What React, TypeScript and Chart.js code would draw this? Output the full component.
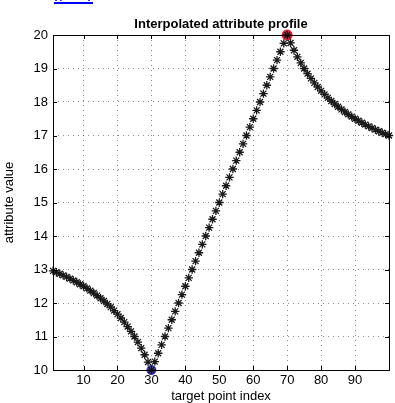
import React, { useEffect, useRef } from "react";
import { Chart, registerables } from "chart.js";

Chart.register(...registerables);

const indices: number[] = [
  1, 2, 3, 4, 5, 6, 7, 8, 9, 10, 11, 12, 13, 14, 15, 16, 17, 18, 19, 20,
  21, 22, 23, 24, 25, 26, 27, 28, 29, 30, 31, 32, 33, 34, 35, 36, 37, 38, 39, 40,
  41, 42, 43, 44, 45, 46, 47, 48, 49, 50, 51, 52, 53, 54, 55, 56, 57, 58, 59, 60,
  61, 62, 63, 64, 65, 66, 67, 68, 69, 70, 71, 72, 73, 74, 75, 76, 77, 78, 79, 80,
  81, 82, 83, 84, 85, 86, 87, 88, 89, 90, 91, 92, 93, 94, 95, 96, 97, 98, 99, 100,
];

const profileValues: number[] = [
  12.959, 12.917, 12.872, 12.826, 12.778, 12.727, 12.674, 12.619, 12.561, 12.5,
  12.436, 12.368, 12.297, 12.222, 12.143, 12.059, 11.97, 11.875, 11.774, 11.667,
  11.552, 11.429, 11.296, 11.154, 11.0, 10.833, 10.652, 10.455, 10.238, 10.0,
  10.25, 10.5, 10.75, 11.0, 11.25, 11.5, 11.75, 12.0, 12.25, 12.5,
  12.75, 13.0, 13.25, 13.5, 13.75, 14.0, 14.25, 14.5, 14.75, 15.0,
  15.25, 15.5, 15.75, 16.0, 16.25, 16.5, 16.75, 17.0, 17.25, 17.5,
  17.75, 18.0, 18.25, 18.5, 18.75, 19.0, 19.25, 19.5, 19.75, 20.0,
  19.762, 19.545, 19.348, 19.167, 19.0, 18.846, 18.704, 18.571, 18.448, 18.333,
  18.226, 18.125, 18.03, 17.941, 17.857, 17.778, 17.703, 17.632, 17.564, 17.5,
  17.439, 17.381, 17.326, 17.273, 17.222, 17.174, 17.128, 17.083, 17.041, 17.0,
];

const minPoint = { x: 30, y: 10 };
const maxPoint = { x: 70, y: 20 };

const xTicks: number[] = [10, 20, 30, 40, 50, 60, 70, 80, 90];
const yTicks: number[] = [10, 11, 12, 13, 14, 15, 16, 17, 18, 19, 20];

const titleText = "Interpolated attribute profile";
const xLabel = "target point index";
const yLabel = "attribute value";

const FONT = "'Liberation Sans', Arial, Helvetica, sans-serif";

const boxPlugin = {
  id: "matlabBox",
  afterDraw(chart: any) {
    const { ctx, chartArea } = chart;
    const { left, right, top, bottom } = chartArea;
    const xs = chart.scales.x;
    const ys = chart.scales.y;
    ctx.save();
    ctx.strokeStyle = "#000";
    ctx.lineWidth = 1;
    ctx.beginPath();
    const tl = 4;
    xTicks.forEach((v) => {
      const px = Math.round(xs.getPixelForValue(v)) + 0.5;
      ctx.moveTo(px, bottom);
      ctx.lineTo(px, bottom - tl);
      ctx.moveTo(px, top);
      ctx.lineTo(px, top + tl);
    });
    yTicks.forEach((v) => {
      const py = Math.round(ys.getPixelForValue(v)) + 0.5;
      ctx.moveTo(left, py);
      ctx.lineTo(left + tl, py);
      ctx.moveTo(right, py);
      ctx.lineTo(right - tl, py);
    });
    ctx.stroke();
    ctx.strokeRect(Math.round(left) + 0.5, Math.round(top) + 0.5, Math.round(right - left), Math.round(bottom - top));
    ctx.fillStyle = "#000";
    ctx.font = `bold 13px ${FONT}`;
    ctx.textAlign = "center";
    ctx.textBaseline = "middle";
    ctx.fillText(titleText, (left + right) / 2, 24);
    ctx.restore();
  },
};

export default function App() {
  const ref = useRef<HTMLCanvasElement | null>(null);
  useEffect(() => {
    if (!ref.current) return;
    const chart = new Chart(ref.current, {
      type: "scatter",
      data: {
        datasets: [
          {
            data: indices.map((x, i) => ({ x, y: profileValues[i] })),
            pointStyle: "star",
            pointRadius: 4.2,
            borderColor: "#1a1a1a",
            backgroundColor: "#1a1a1a",
            borderWidth: 1.3,
            showLine: false,
            clip: false,
          } as any,
          {
            data: [minPoint],
            pointStyle: "circle",
            pointRadius: 4.5,
            backgroundColor: "#3a3ad0",
            borderColor: "#2525b0",
            borderWidth: 1,
            clip: false,
          } as any,
          {
            data: [minPoint],
            pointStyle: "star",
            pointRadius: 3.8,
            borderColor: "#8a8aff",
            borderWidth: 0.8,
            clip: false,
          } as any,
          {
            data: [maxPoint],
            pointStyle: "circle",
            pointRadius: 5,
            backgroundColor: "#f02030",
            borderColor: "#e01020",
            borderWidth: 1,
            clip: false,
          } as any,
          {
            data: [maxPoint],
            pointStyle: "star",
            pointRadius: 4,
            borderColor: "#ffb0b0",
            borderWidth: 0.8,
            clip: false,
          } as any,
        ],
      },
      options: {
        animation: false,
        responsive: false,
        maintainAspectRatio: false,
        layout: { padding: { left: 0, right: 6, top: 35, bottom: 0 } },
        plugins: {
          legend: { display: false },
          title: { display: false },
          tooltip: { enabled: false },
        },
        scales: {
          x: {
            type: "linear",
            min: 1,
            max: 100,
            afterBuildTicks: (s: any) => {
              s.ticks = xTicks.map((v) => ({ value: v }));
            },
            afterFit: (s: any) => {
              s.height = 33;
            },
            ticks: {
              color: "#000",
              font: { family: FONT, size: 13 },
              padding: 3,
              maxRotation: 0,
            },
            grid: {
              drawTicks: false,
              color: "rgba(0,0,0,0.45)",
              lineWidth: 1,
            } as any,
            border: { display: false, dash: [1, 4] } as any,
            title: {
              display: true,
              text: xLabel,
              color: "#000",
              font: { family: FONT, size: 13 },
              padding: { top: 0, bottom: -1 },
            },
          },
          y: {
            type: "linear",
            min: 10,
            max: 20,
            afterBuildTicks: (s: any) => {
              s.ticks = yTicks.map((v) => ({ value: v }));
            },
            afterFit: (s: any) => {
              s.width = 53;
            },
            ticks: {
              color: "#000",
              font: { family: FONT, size: 13 },
              padding: 5,
            },
            grid: {
              drawTicks: false,
              color: "rgba(0,0,0,0.45)",
              lineWidth: 1,
            } as any,
            border: { display: false, dash: [1, 4] } as any,
            title: {
              display: true,
              text: yLabel,
              color: "#000",
              font: { family: FONT, size: 13 },
              padding: { top: 2, bottom: 0 },
            },
          },
        },
      },
      plugins: [boxPlugin],
    });
    return () => chart.destroy();
  }, []);
  return (
    <div style={{ position: "fixed", left: 0, top: 0, width: 395, height: 403, background: "#fff", overflow: "hidden" }}>
      <span
        style={{
          position: "absolute",
          left: 54,
          top: -13,
          lineHeight: "16px",
          color: "#0000ff",
          fontFamily: FONT,
          fontSize: 18,
          letterSpacing: 2,
          textDecoration: "underline",
          textDecorationColor: "#0000ff",
          textDecorationThickness: "2px",
        }}
      >
        l/—l
      </span>
      <canvas ref={ref} width={395} height={403} style={{ display: "block" }} />
    </div>
  );
}
